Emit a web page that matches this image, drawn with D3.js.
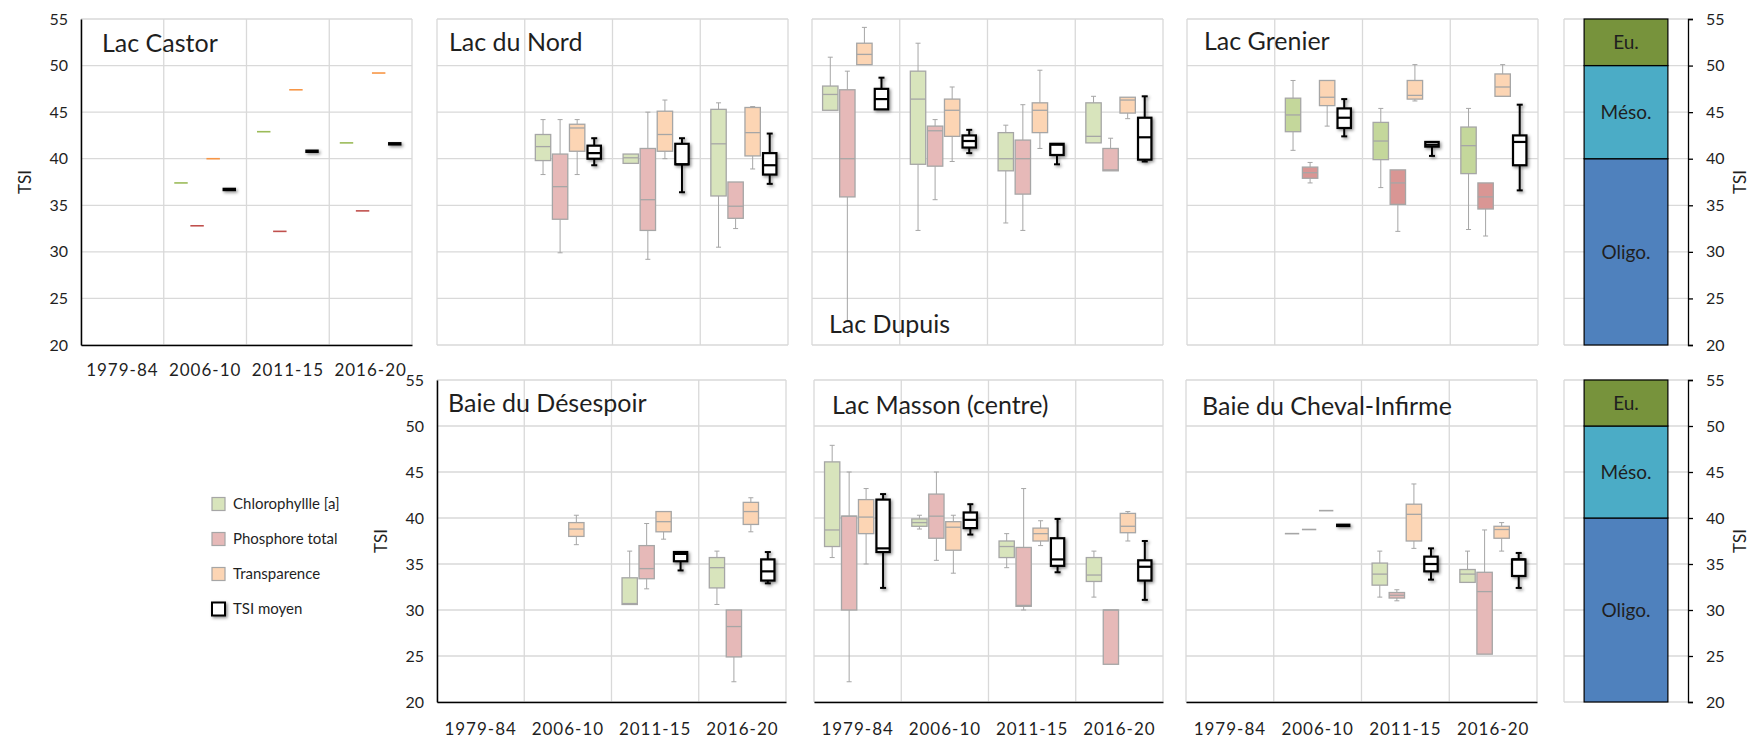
<!DOCTYPE html>
<html>
<head>
<meta charset="utf-8">
<script src="https://cdnjs.cloudflare.com/ajax/libs/d3/7.8.5/d3.min.js"></script>
<style>
  body { margin: 0; background: #fff; }
  text { font-family: Lato, "Open Sans", sans-serif; fill: #1f1f1f; }
</style>
</head>
<body>
<svg id="chart" width="1750" height="741"></svg>
<script>
const periods = ["1979-84", "2006-10", "2011-15", "2016-20"];
const seriesKeys = ["chl", "pt", "tr", "tsi"];
const seriesNames = ["Chlorophyllle [a]", "Phosphore total", "Transparence", "TSI moyen"];
const yTicks = [20, 25, 30, 35, 40, 45, 50, 55];
const trophicClasses = ["Oligo.", "Méso.", "Eu."];
const trophicLimits = [[20, 40], [40, 50], [50, 55]];

// [période, série, min, q1, médiane, q3, max]  (une seule valeur = mesure unique)
const lacCastor = [
  ["2006-10", "chl", 37.4], ["2006-10", "pt", 32.8], ["2006-10", "tr", 40.0], ["2006-10", "tsi", 36.7],
  ["2011-15", "chl", 42.9], ["2011-15", "pt", 32.2], ["2011-15", "tr", 47.4], ["2011-15", "tsi", 40.8],
  ["2016-20", "chl", 41.7], ["2016-20", "pt", 34.4], ["2016-20", "tr", 49.2], ["2016-20", "tsi", 41.6]
];
const lacDuNord = [
  ["2006-10", "chl", 38.3, 39.8, 41.3, 42.6, 44.2],
  ["2006-10", "pt", 29.9, 33.5, 37.0, 40.5, 44.2],
  ["2006-10", "tr", 38.3, 40.8, 43.3, 43.7, 44.2],
  ["2006-10", "tsi", 39.3, 40.0, 40.6, 41.4, 42.2],
  ["2011-15", "chl", 39.5, 39.5, 40.1, 40.5, 40.5],
  ["2011-15", "pt", 29.2, 32.3, 35.6, 41.1, 45.0],
  ["2011-15", "tr", 40.0, 40.8, 42.6, 45.1, 46.3],
  ["2011-15", "tsi", 36.4, 39.4, 39.4, 41.6, 42.2],
  ["2016-20", "chl", 30.5, 36.0, 41.6, 45.3, 46.0],
  ["2016-20", "pt", 32.5, 33.6, 34.9, 37.5, 37.5],
  ["2016-20", "tr", 38.9, 40.3, 42.8, 45.5, 45.6],
  ["2016-20", "tsi", 37.3, 38.3, 39.3, 40.6, 42.7]
];
const lacDupuis = [
  ["1979-84", "chl", 45.2, 45.2, 46.9, 47.8, 50.9],
  ["1979-84", "pt", 22.5, 35.9, 40.0, 47.4, 49.4],
  ["1979-84", "tr", 50.1, 50.1, 51.2, 52.4, 54.1],
  ["1979-84", "tsi", 45.3, 45.3, 46.4, 47.5, 48.7],
  ["2006-10", "chl", 32.3, 39.4, 46.4, 49.4, 52.4],
  ["2006-10", "pt", 35.6, 39.2, 43.0, 43.5, 44.2],
  ["2006-10", "tr", 39.7, 42.4, 45.2, 46.4, 47.7],
  ["2006-10", "tsi", 40.6, 41.2, 41.9, 42.5, 43.1],
  ["2011-15", "chl", 33.1, 38.7, 40.0, 42.8, 43.6],
  ["2011-15", "pt", 32.3, 36.2, 40.0, 42.0, 45.8],
  ["2011-15", "tr", 41.1, 42.8, 45.2, 46.0, 49.5],
  ["2011-15", "tsi", 39.4, 40.4, 41.5, 41.6, 41.6],
  ["2016-20", "chl", 41.7, 41.7, 42.4, 46.0, 46.7],
  ["2016-20", "pt", 38.7, 38.7, 38.8, 41.1, 42.2],
  ["2016-20", "tr", 44.3, 44.9, 46.3, 46.6, 46.6],
  ["2016-20", "tsi", 39.7, 39.9, 42.3, 44.4, 46.7]
];
const lacGrenier = [
  ["2006-10", "chl", 40.9, 42.9, 44.7, 46.5, 48.4],
  ["2006-10", "pt", 37.4, 37.9, 38.5, 39.1, 39.6],
  ["2006-10", "tr", 43.5, 45.7, 46.6, 48.4, 48.4],
  ["2006-10", "tsi", 42.4, 43.3, 44.4, 45.4, 46.4],
  ["2011-15", "chl", 36.9, 39.9, 41.9, 43.9, 45.4],
  ["2011-15", "pt", 32.2, 35.1, 37.4, 38.8, 38.8],
  ["2011-15", "tr", 46.2, 46.4, 46.8, 48.4, 50.1],
  ["2011-15", "tsi", 40.3, 41.3, 41.5, 41.8, 41.8],
  ["2016-20", "chl", 32.4, 38.4, 41.4, 43.4, 45.4],
  ["2016-20", "pt", 31.7, 34.6, 35.9, 37.4, 37.4],
  ["2016-20", "tr", 46.7, 46.7, 47.7, 49.1, 50.1],
  ["2016-20", "tsi", 36.6, 39.3, 41.8, 42.5, 45.8]
];
const baieDesespoir = [
  ["2006-10", "tr", 37.1, 38.0, 38.8, 39.5, 40.3],
  ["2011-15", "chl", 30.6, 30.6, 30.7, 33.5, 36.4],
  ["2011-15", "pt", 32.3, 33.4, 34.5, 37.0, 39.4],
  ["2011-15", "tr", 37.7, 38.5, 39.6, 40.7, 40.7],
  ["2011-15", "tsi", 34.3, 35.3, 36.1, 36.3, 36.3],
  ["2016-20", "chl", 30.6, 32.4, 34.6, 35.7, 36.4],
  ["2016-20", "pt", 22.2, 24.9, 28.2, 30.0, 30.0],
  ["2016-20", "tr", 38.5, 39.3, 40.7, 41.7, 42.2],
  ["2016-20", "tsi", 32.9, 33.2, 34.2, 35.5, 36.3]
];
const lacMasson = [
  ["1979-84", "chl", 35.7, 36.9, 38.7, 46.1, 47.9],
  ["1979-84", "pt", 22.2, 30.0, 40.2, 40.2, 45.0],
  ["1979-84", "tr", 35.0, 38.3, 40.1, 42.0, 43.2],
  ["1979-84", "tsi", 32.4, 36.3, 36.7, 42.0, 42.6],
  ["2006-10", "chl", 38.8, 39.1, 39.5, 39.9, 40.3],
  ["2006-10", "pt", 35.4, 37.8, 40.2, 42.6, 45.0],
  ["2006-10", "tr", 34.0, 36.5, 39.0, 39.6, 40.3],
  ["2006-10", "tsi", 38.2, 38.9, 39.8, 40.6, 41.5],
  ["2011-15", "chl", 34.6, 35.7, 36.9, 37.5, 38.3],
  ["2011-15", "pt", 30.0, 30.4, 30.5, 36.8, 43.2],
  ["2011-15", "tr", 37.0, 37.5, 38.3, 38.9, 39.7],
  ["2011-15", "tsi", 34.1, 34.8, 35.5, 37.8, 39.9],
  ["2016-20", "chl", 31.4, 33.1, 33.8, 35.7, 36.4],
  ["2016-20", "pt", 24.1, 24.1, 30.0, 30.0, 30.0],
  ["2016-20", "tr", 37.5, 38.4, 39.1, 40.5, 40.7],
  ["2016-20", "tsi", 31.1, 33.2, 34.7, 35.4, 37.5]
];
const baieCheval = [
  ["2006-10", "chl", 38.3], ["2006-10", "pt", 38.75], ["2006-10", "tr", 40.8], ["2006-10", "tsi", 39.2],
  ["2011-15", "chl", 31.4, 32.7, 33.9, 35.1, 36.4],
  ["2011-15", "pt", 31.0, 31.3, 31.6, 31.9, 32.2],
  ["2011-15", "tr", 36.7, 37.5, 40.4, 41.5, 43.7],
  ["2011-15", "tsi", 33.3, 34.2, 35.0, 35.8, 36.7],
  ["2016-20", "chl", 33.0, 33.0, 33.9, 34.4, 36.4],
  ["2016-20", "pt", 25.2, 25.2, 32.0, 34.1, 38.7],
  ["2016-20", "tr", 36.4, 37.8, 38.75, 39.1, 39.5],
  ["2016-20", "tsi", 32.4, 33.7, 35.5, 35.5, 36.2]
];

// styles
const fillSoft = { chl: "#d8e4bc", pt: "#e6b9b8", tr: "#fcd5b4", tsi: "#ffffff" };
const fillStrong = { chl: "#c4d79b", pt: "#d99694", tr: "#fcd5b4", tsi: "#ffffff" };
const lineColor = { chl: "#9bbb59", pt: "#c0504d", tr: "#f79646", tsi: "#000000" };
const trophicColor = ["#4f81bd", "#4bacc6", "#77933c"];
const gridColor = "#d9d9d9";
const boxStroke = "#a6a6a6";

const rows = [{ top: 19, bottom: 345 }, { top: 380, bottom: 702 }];

const panels = [
  { title: "Lac Castor", data: lacCastor, row: 0, x0: 81, x1: 412, yAxis: true, xAxis: true, tx: 102, ty: 52, flat: "color" },
  { title: "Lac du Nord", data: lacDuNord, row: 0, x0: 437, x1: 788, tx: 449, ty: 51 },
  { title: "Lac Dupuis", data: lacDupuis, row: 0, x0: 812, x1: 1163, tx: 829, ty: 333 },
  { title: "Lac Grenier", data: lacGrenier, row: 0, x0: 1187, x1: 1538, tx: 1204, ty: 50, strong: true },
  { title: "Baie du Désespoir", data: baieDesespoir, row: 1, x0: 437, x1: 786, yAxis: true, xAxis: true, tx: 448, ty: 412 },
  { title: "Lac Masson (centre)", data: lacMasson, row: 1, x0: 814, x1: 1163, xAxis: true, tx: 832, ty: 414 },
  { title: "Baie du Cheval-Infirme", data: baieCheval, row: 1, x0: 1186, x1: 1537, xAxis: true, tx: 1202, ty: 415, flat: "grey" }
];

const svg = d3.select("#chart");

// drop shadow (userSpaceOnUse so flat lines still get it)
const defs = svg.append("defs");
defs.append("filter")
  .attr("id", "shadow")
  .attr("filterUnits", "userSpaceOnUse")
  .attr("x", -1000).attr("y", -1000).attr("width", 4000).attr("height", 3000)
  .append("feDropShadow")
  .attr("dx", 1.5).attr("dy", 1.5).attr("stdDeviation", 1.4)
  .attr("flood-color", "#000").attr("flood-opacity", 0.45);

function drawPanel(p) {
  const r = rows[p.row];
  const y = d3.scaleLinear().domain([20, 55]).range([r.bottom, r.top]);
  const x0 = d3.scaleBand().domain(periods).range([p.x0, p.x1]);
  const bw = x0.bandwidth();
  const x1 = d3.scaleBand().domain(seriesKeys)
    .range([bw * 0.115, bw * 0.885])
    .paddingInner(0.04);

  const g = svg.append("g");

  // grid
  g.selectAll(".hgrid").data(yTicks).join("line")
    .attr("x1", p.x0).attr("x2", p.x1)
    .attr("y1", d => y(d)).attr("y2", d => y(d))
    .attr("stroke", gridColor).attr("stroke-width", 1.3);
  g.selectAll(".vgrid").data(periods).join("line")
    .attr("x1", d => x0(d)).attr("x2", d => x0(d))
    .attr("y1", r.top).attr("y2", r.bottom)
    .attr("stroke", gridColor).attr("stroke-width", 1.3);
  g.append("line")
    .attr("x1", p.x1).attr("x2", p.x1).attr("y1", r.top).attr("y2", r.bottom)
    .attr("stroke", gridColor).attr("stroke-width", 1.3);

  // axes
  if (p.yAxis) {
    const ax = g.append("g")
      .attr("transform", "translate(" + p.x0 + ",0)")
      .call(d3.axisLeft(y).tickValues(yTicks).tickSize(0).tickPadding(13));
    ax.select(".domain").attr("stroke", "#000").attr("stroke-width", 1.5);
    ax.selectAll("text").attr("font-size", 16).attr("fill", "#262626")
      .style("font-family", "Lato, sans-serif");
    const cy = (r.top + r.bottom) / 2;
    g.append("text")
      .attr("transform", "translate(" + (p.x0 - 56) + "," + cy + ") rotate(-90)")
      .attr("text-anchor", "middle").attr("dy", "0.35em")
      .attr("font-size", 17)
      .text("TSI");
  }
  if (p.xAxis) {
    const ax = g.append("g")
      .attr("transform", "translate(0," + r.bottom + ")")
      .call(d3.axisBottom(x0).tickSize(0).tickPadding(p.row === 0 ? 19 : 21));
    ax.select(".domain").attr("stroke", "#000").attr("stroke-width", 1.5);
    ax.selectAll("text").attr("font-size", 17).attr("fill", "#262626")
      .attr("letter-spacing", 1)
      .style("font-family", "Lato, sans-serif");
  }

  const fills = p.strong ? fillStrong : fillSoft;

  // boxes
  p.data.forEach(row => {
    const [period, key, ...v] = row;
    const bx = x0(period) + x1(key);
    const w = x1.bandwidth();
    const cx = bx + w / 2;
    const isTsi = key === "tsi";
    const stroke = isTsi ? "#000" : boxStroke;
    const sw = isTsi ? 2.2 : 1.3;
    const bg = g.append("g");
    if (isTsi) bg.attr("filter", "url(#shadow)");

    if (v.length === 1) {
      let c = isTsi ? "#000" : (p.flat === "color" ? lineColor[key] : boxStroke);
      bg.append("line")
        .attr("x1", bx + 1).attr("x2", bx + w - 1)
        .attr("y1", y(v[0])).attr("y2", y(v[0]))
        .attr("stroke", c).attr("stroke-width", isTsi ? 3.5 : 1.6);
      return;
    }
    const [mn, q1, md, q3, mx] = v;
    const cap = isTsi ? 3 : 2.5;
    if (mx > q3) {
      bg.append("line").attr("x1", cx).attr("x2", cx).attr("y1", y(mx)).attr("y2", y(q3))
        .attr("stroke", stroke).attr("stroke-width", isTsi ? 2 : 1);
      bg.append("line").attr("x1", cx - cap).attr("x2", cx + cap).attr("y1", y(mx)).attr("y2", y(mx))
        .attr("stroke", stroke).attr("stroke-width", isTsi ? 2 : 1);
    }
    if (mn < q1) {
      bg.append("line").attr("x1", cx).attr("x2", cx).attr("y1", y(q1)).attr("y2", y(mn))
        .attr("stroke", stroke).attr("stroke-width", isTsi ? 2 : 1);
      bg.append("line").attr("x1", cx - cap).attr("x2", cx + cap).attr("y1", y(mn)).attr("y2", y(mn))
        .attr("stroke", stroke).attr("stroke-width", isTsi ? 2 : 1);
    }
    const bxPad = isTsi ? 1.5 : 0.5;
    bg.append("rect")
      .attr("x", bx + bxPad).attr("width", w - 2 * bxPad)
      .attr("y", y(q3)).attr("height", Math.max(0.5, y(q1) - y(q3)))
      .attr("fill", fills[key])
      .attr("stroke", stroke).attr("stroke-width", sw);
    bg.append("line")
      .attr("x1", bx + bxPad).attr("x2", bx + w - bxPad)
      .attr("y1", y(md)).attr("y2", y(md))
      .attr("stroke", stroke).attr("stroke-width", sw);
  });

  // title
  g.append("text")
    .attr("x", p.tx).attr("y", p.ty)
    .attr("font-size", 25)
    .text(p.title);
}

panels.forEach(drawPanel);

// trophic scale columns
function drawTrophic(rowIdx) {
  const r = rows[rowIdx];
  const y = d3.scaleLinear().domain([20, 55]).range([r.bottom, r.top]);
  const left = 1564, axisX = 1688;
  const xb = d3.scaleBand().domain(["TSI"]).range([left, axisX]).paddingOuter(0.24);
  const g = svg.append("g");
  g.selectAll(".hgrid").data(yTicks).join("line")
    .attr("x1", left).attr("x2", axisX)
    .attr("y1", d => y(d)).attr("y2", d => y(d))
    .attr("stroke", gridColor).attr("stroke-width", 1.3);
  g.append("line").attr("x1", left).attr("x2", left).attr("y1", r.top).attr("y2", r.bottom)
    .attr("stroke", gridColor).attr("stroke-width", 1.3);

  g.selectAll(".band").data(trophicLimits).join("rect")
    .attr("x", xb("TSI")).attr("width", xb.bandwidth())
    .attr("y", d => y(d[1])).attr("height", d => y(d[0]) - y(d[1]))
    .attr("fill", (d, i) => trophicColor[i])
    .attr("stroke", "#000").attr("stroke-width", 1.2);
  g.selectAll(".blabel").data(trophicLimits).join("text")
    .attr("x", xb("TSI") + xb.bandwidth() / 2)
    .attr("y", d => y((d[0] + d[1]) / 2))
    .attr("text-anchor", "middle").attr("dy", "0.35em")
    .attr("font-size", 19)
    .text((d, i) => trophicClasses[i]);

  const ax = g.append("g")
    .attr("transform", "translate(" + axisX + ",0)")
    .call(d3.axisRight(y).tickValues(yTicks).tickSize(5).tickPadding(13));
  ax.select(".domain").attr("stroke", "#000").attr("stroke-width", 1.3);
  ax.selectAll(".tick line").attr("stroke", "#000").attr("stroke-width", 1.3);
  ax.selectAll("text").attr("font-size", 16).attr("fill", "#262626")
    .style("font-family", "Lato, sans-serif");

  g.append("text")
    .attr("transform", "translate(1740," + ((r.top + r.bottom) / 2) + ") rotate(-90)")
    .attr("text-anchor", "middle").attr("dy", "0.35em")
    .attr("font-size", 17)
    .text("TSI");
}
drawTrophic(0);
drawTrophic(1);

// legend
const legend = svg.append("g").attr("transform", "translate(212,504)");
const li = legend.selectAll("g").data(seriesKeys).join("g")
  .attr("transform", (d, i) => "translate(0," + (i * 35) + ")");
li.append("rect")
  .attr("x", 0).attr("y", -6.5).attr("width", 13).attr("height", 13)
  .attr("fill", d => fillSoft[d])
  .attr("stroke", d => d === "tsi" ? "#000" : boxStroke)
  .attr("stroke-width", d => d === "tsi" ? 2 : 1.2)
  .attr("filter", d => d === "tsi" ? "url(#shadow)" : null);
li.append("text")
  .attr("x", 21).attr("dy", "0.35em")
  .attr("font-size", 15)
  .text((d, i) => seriesNames[i]);
</script>
</body>
</html>
